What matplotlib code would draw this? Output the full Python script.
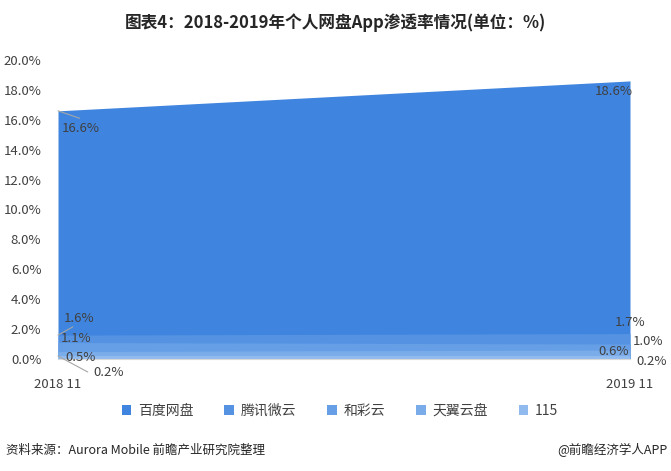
import matplotlib
matplotlib.use("Agg")
import matplotlib.pyplot as plt

plt.rcParams['font.family'] = ['Noto Sans CJK SC', 'DejaVu Sans']

periods = ["2018 11", "2019 11"]
series = ["百度网盘", "腾讯微云", "和彩云", "天翼云盘", "115"]
values = [
    [16.6, 18.6],
    [1.6, 1.7],
    [1.1, 1.0],
    [0.5, 0.6],
    [0.2, 0.2],
]
colors = ["#3f84de", "#5593e2", "#669fe6", "#7aacea", "#91bbef"]

fig = plt.figure(figsize=(6.71, 4.71), dpi=100)
ax = fig.add_axes([58 / 671, 1 - 359 / 471, 572 / 671, 299 / 471])

x = [0, 1]
for name, vals, c in zip(series, values, colors):
    ax.fill_between(x, 0, vals, color=c, linewidth=0, label=name)

ax.set_xlim(0, 1)
ax.set_ylim(0, 20)
ax.set_yticks([i * 2 for i in range(11)])
ax.set_yticklabels(["%.1f%%" % (i * 2) for i in range(11)], fontsize=9.5, color="#404040")
ax.set_xticks(x)
ax.set_xticklabels(periods, fontsize=9.5, color="#404040")
ax.tick_params(length=0)
ax.tick_params(axis="x", pad=14)
ax.tick_params(axis="y", pad=12)
for s in ["top", "right", "left"]:
    ax.spines[s].set_visible(False)
ax.spines["bottom"].set_color("#d9d9d9")

lc = "#404040"
fs = 9.5
lead = dict(arrowstyle="-", color="#a6a6a6", lw=0.8, shrinkA=0, shrinkB=0)

# left side labels
ax.annotate("16.6%", xy=(0, 16.6), xytext=(0.04, 15.4), ha="center", va="center",
            fontsize=fs, color=lc, annotation_clip=False)
ax.annotate("", xy=(0, 16.6), xytext=(0.038, 16.1), arrowprops=lead, annotation_clip=False)
ax.annotate("1.6%", xy=(0, 1.6), xytext=(0.037, 2.74), ha="center", va="center",
            fontsize=fs, color=lc, annotation_clip=False)
ax.annotate("", xy=(0, 1.6), xytext=(0.026, 2.15), arrowprops=lead, annotation_clip=False)
ax.text(0.031, 1.34, "1.1%", ha="center", va="center", fontsize=fs, color=lc, clip_on=False)
ax.text(0.04, 0.13, "0.5%", ha="center", va="center", fontsize=fs, color=lc, clip_on=False)
ax.annotate("0.2%", xy=(0, 0.2), xytext=(0.089, -0.87), ha="center", va="center",
            fontsize=fs, color=lc, annotation_clip=False)
ax.annotate("", xy=(0, 0.2), xytext=(0.052, -0.87), arrowprops=lead, annotation_clip=False)

# right side labels
ax.text(0.972, 17.86, "18.6%", ha="center", va="center", fontsize=fs, color=lc, clip_on=False)
ax.text(1.0, 2.47, "1.7%", ha="center", va="center", fontsize=fs, color=lc, clip_on=False)
ax.text(1.031, 1.2, "1.0%", ha="center", va="center", fontsize=fs, color=lc, clip_on=False)
ax.text(0.972, 0.47, "0.6%", ha="center", va="center", fontsize=fs, color=lc, clip_on=False)
ax.text(1.038, -0.2, "0.2%", ha="center", va="center", fontsize=fs, color=lc, clip_on=False)

fig.legend(loc="center", bbox_to_anchor=(340 / 671, 1 - 411 / 471), ncol=5, frameon=False,
           fontsize=10, handlelength=0.7, handleheight=0.7, handletextpad=0.5,
           columnspacing=2.2, labelcolor="#404040")

fig.text(0.5, 1 - 23 / 471, "图表4：2018-2019年个人网盘App渗透率情况(单位：%)", ha="center",
         va="center", fontsize=12, fontweight="bold", color="#262626")
fig.text(6 / 671, 1 - 450 / 471, "资料来源：Aurora Mobile 前瞻产业研究院整理", ha="left",
         va="center", fontsize=9, color="#262626")
fig.text(667 / 671, 1 - 450 / 471, "@前瞻经济学人APP", ha="right", va="center",
         fontsize=9, color="#262626")

fig.savefig("out.png", dpi=100)
